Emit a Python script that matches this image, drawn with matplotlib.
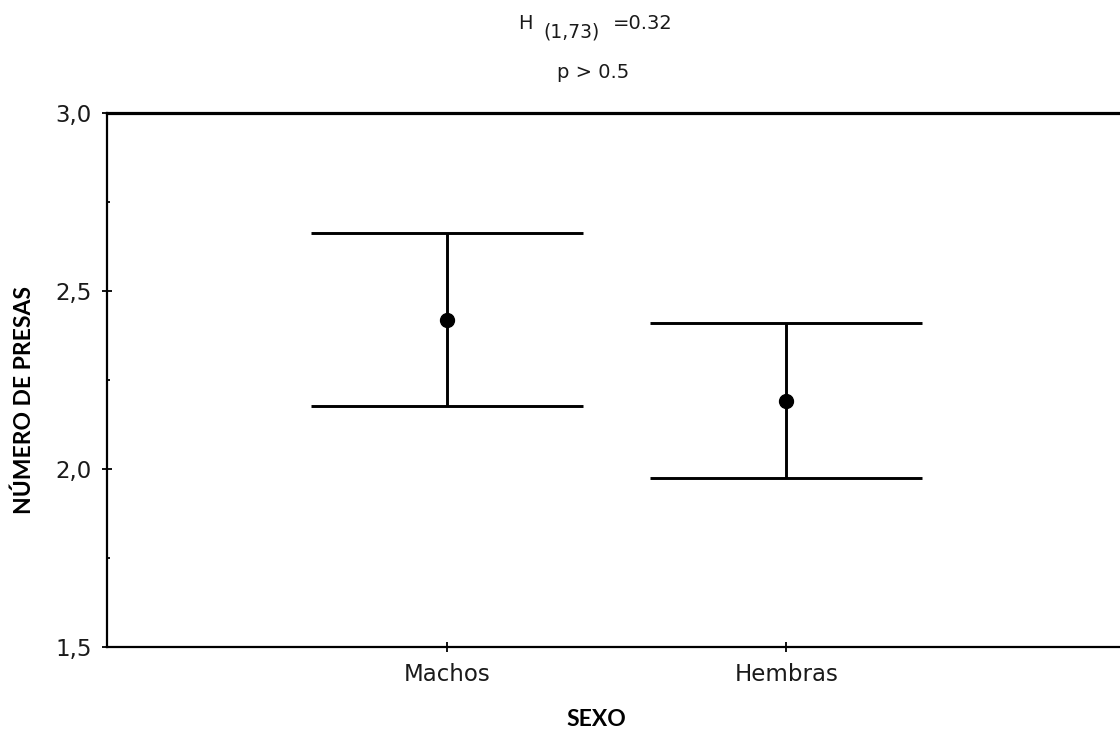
import matplotlib
matplotlib.use("Agg")
import matplotlib.pyplot as plt
from matplotlib.ticker import FixedLocator, FuncFormatter

# Mean number of prey by sex, with interval bounds
groups = ["Machos", "Hembras"]
means = [2.418, 2.191]
upper = [2.663, 2.410]
lower = [2.177, 1.975]
yticks = [1.5, 2.0, 2.5, 3.0]
yminor = [1.75, 2.25, 2.75]

W, H = 1120, 732
plt.rcParams["font.family"] = ["DejaVu Sans"]

fig = plt.figure(figsize=(W / 100, H / 100), dpi=100)
ax = fig.add_axes([107 / W, 85 / H, (1126 - 107) / W, 534 / H])

xpos = list(range(1, len(groups) + 1))
cap = 0.4
lw = 2.1
for x, m, hi, lo in zip(xpos, means, upper, lower):
    ax.plot([x, x], [lo, hi], color="black", lw=lw, solid_capstyle="butt")
    ax.plot([x - cap, x + cap], [hi, hi], color="black", lw=lw, solid_capstyle="butt")
    ax.plot([x - cap, x + cap], [lo, lo], color="black", lw=lw, solid_capstyle="butt")
    ax.plot([x], [m], "o", color="black", ms=10)

ax.set_xlim(0, 3)
ax.set_ylim(1.5, 3.0)
ax.set_xticks(xpos)
ax.set_xticklabels(groups, fontsize=16.5, color="#1a1a1a")
ax.yaxis.set_major_locator(FixedLocator(yticks))
ax.yaxis.set_minor_locator(FixedLocator(yminor))
ax.yaxis.set_major_formatter(FuncFormatter(lambda v, p: f"{v:.1f}".replace(".", ",")))
ax.tick_params(axis="y", which="major", direction="inout", length=7, width=1.3,
               labelsize=16.5, labelcolor="#1a1a1a", pad=7.5)
ax.tick_params(axis="y", which="minor", direction="in", length=2.5, width=1.3)
ax.tick_params(axis="x", which="major", direction="inout", length=7, width=1.3, pad=8)

ax.spines["left"].set_linewidth(1.6)
ax.spines["bottom"].set_linewidth(1.6)
ax.spines["top"].set_linewidth(2.3)
ax.spines["right"].set_visible(False)

# Axis titles
fig.text(596 / W, 1 - 719 / H, "SEXO", ha="center", va="center",
         fontsize=16.5, fontweight="bold", family="Lato")
fig.text(24 / W, 1 - 400 / H, "NÚMERO DE PRESAS", ha="center", va="center",
         rotation=90, fontsize=16.5, fontweight="bold", family="Lato")

# Test statistic header
fig.text(518 / W, 1 - 29 / H, "H", ha="left", va="baseline", fontsize=14, color="#1a1a1a")
fig.text(543 / W, 1 - 37 / H, "(1,73)", ha="left", va="baseline", fontsize=13.5, color="#1a1a1a")
fig.text(613 / W, 1 - 29 / H, "=0.32", ha="left", va="baseline", fontsize=14, color="#1a1a1a")
fig.text(557 / W, 1 - 78 / H, "p > 0.5", ha="left", va="baseline", fontsize=14, color="#1a1a1a")

fig.savefig("out.png", dpi=100)
